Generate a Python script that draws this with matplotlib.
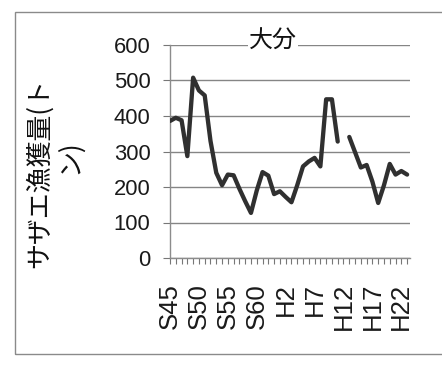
import numpy as np
import matplotlib
matplotlib.use("Agg")
import matplotlib.pyplot as plt
from matplotlib import font_manager
from matplotlib.transforms import ScaledTranslation
from matplotlib.patches import Rectangle

# ---- data ----
years = ["S45", "S46", "S47", "S48", "S49", "S50", "S51", "S52", "S53", "S54",
         "S55", "S56", "S57", "S58", "S59", "S60", "S61", "S62", "S63", "H1",
         "H2", "H3", "H4", "H5", "H6", "H7", "H8", "H9", "H10", "H11",
         "H12", "H13", "H14", "H15", "H16", "H17", "H18", "H19", "H20", "H21",
         "H22", "H23"]
catch_tons = [386, 395, 388, 287, 508, 472, 458, 330, 240, 205,
              235, 233, 195, 160, 127, 190, 242, 232, 180, 188,
              172, 157, 205, 258, 272, 282, 258, 447, 447, 328,
              np.nan, 341, 298, 255, 262, 215, 155, 205, 265, 235,
              245, 235]
shown_labels = ["S45", "S50", "S55", "S60", "H2", "H7", "H12", "H17", "H22"]
y_ticks = [0, 100, 200, 300, 400, 500, 600]
title = "大分"
ylabel_lines = ["サザエ漁獲量(ト", "ン)"]

names = {f.name for f in font_manager.fontManager.ttflist}
num_font = "Liberation Sans Narrow" if "Liberation Sans Narrow" in names else "Liberation Sans"
jp_font = ["Noto Sans CJK JP", "DejaVu Sans"]

fig = plt.figure(figsize=(4.42, 3.68), dpi=100)
fig.patch.set_facecolor("white")

# outer chart border
fig.add_artist(Rectangle((15 / 442, 1 - 354 / 368), 440 / 442, (354 - 12) / 368,
                         transform=fig.transFigure, fill=False,
                         edgecolor="#8a8a8a", linewidth=1.0))

ax = fig.add_axes([170 / 442, 1 - 258 / 368, 240 / 442, (258 - 45) / 368])
x = np.arange(len(years))
ax.plot(x, catch_tons, color="#303030", linewidth=3.1, solid_joinstyle="round",
        solid_capstyle="round", zorder=3)

ax.set_ylim(0, 600)
ax.set_xlim(0, len(years) - 0.5)
ax.set_yticks(y_ticks)
ax.set_yticklabels([str(v) for v in y_ticks], fontfamily=num_font,
                   fontsize=16, color="#1a1a1a")
ax.yaxis.grid(True, color="#858585", linewidth=1.0)
ax.set_axisbelow(True)

ax.set_xticks(x)
ax.set_xticklabels([y if y in shown_labels else "" for y in years],
                   rotation=90, fontfamily=num_font, fontsize=16,
                   color="#1a1a1a")
offset = ScaledTranslation(4 / 72, 0, fig.dpi_scale_trans)
for lab in ax.get_xticklabels():
    lab.set_transform(lab.get_transform() + offset)

ax.tick_params(axis="x", length=4, width=0.8, color="#777777", pad=14)
ax.tick_params(axis="y", length=5, width=0.8, color="#777777", pad=9)

for s in ["top", "right"]:
    ax.spines[s].set_visible(False)
for s in ["left", "bottom"]:
    ax.spines[s].set_color("#8c8c8c")
    ax.spines[s].set_linewidth(1.0)

t_title = fig.text(273 / 442, 1 - 41 / 368, title, ha="center", va="center",
                   fontsize=18, family=jp_font, color="#111111",
                   bbox=dict(facecolor="white", edgecolor="none", pad=1.0), zorder=5)

t_y1 = fig.text(39 / 442, 1 - 173 / 368, ylabel_lines[0], rotation=90,
                ha="center", va="center", fontsize=18, family=jp_font,
                color="#111111")
t_y2 = fig.text(69 / 442, 1 - 157 / 368, ylabel_lines[1], rotation=90,
                ha="center", va="center", fontsize=18, family=jp_font,
                color="#111111")

# fit text sizes to measured pixel extents of the reference
def fit(artists, target, use_height=False):
    for _ in range(3):
        fig.canvas.draw()
        r = fig.canvas.get_renderer()
        ext = artists[0].get_window_extent(r)
        cur = ext.height if use_height else ext.width
        if cur <= 0:
            return
        fs = artists[0].get_fontsize() * target / cur
        for a in artists:
            a.set_fontsize(fs)

ylabs = ax.get_yticklabels()
fit([l for l in ylabs if l.get_text() == "600"] + [l for l in ylabs if l.get_text() != "600"], 37)
xlabs = ax.get_xticklabels()
fit([l for l in xlabs if l.get_text() == "S45"] + [l for l in xlabs if l.get_text() != "S45"], 46, use_height=True)
fit([t_title], 48)
fit([t_y1, t_y2], 190, use_height=True)

fig.savefig("out.png", dpi=100, facecolor="white")
